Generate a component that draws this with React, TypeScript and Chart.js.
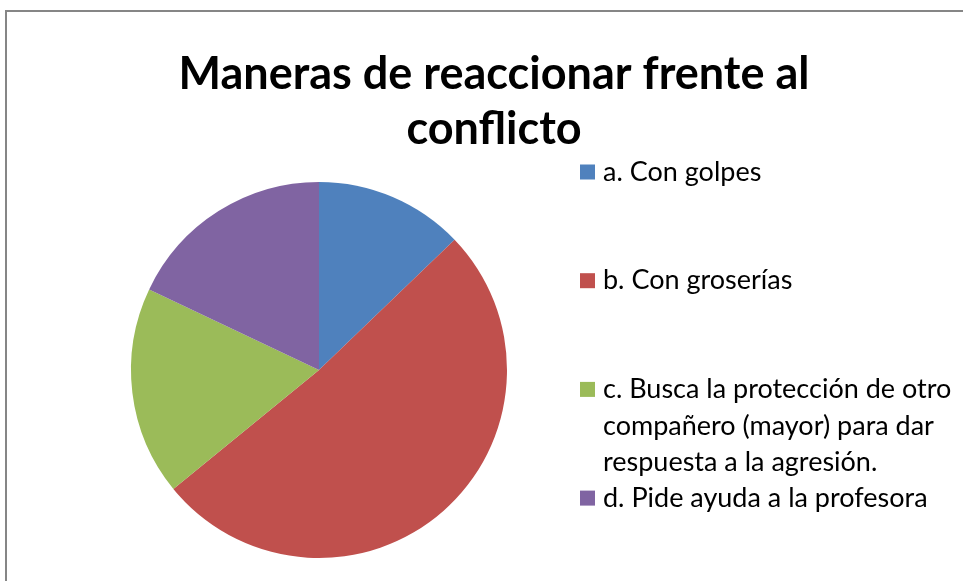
import React, { useEffect, useRef } from "react";
import { Chart, registerables } from "chart.js";

Chart.register(...registerables);

const titleLines = ["Maneras de reaccionar frente al", "conflicto"];
const categories = [
  "a. Con golpes",
  "b. Con groserías",
  "c. Busca la protección de otro compañero (mayor) para dar respuesta a la agresión.",
  "d. Pide ayuda a la profesora",
];
const legendLines = [
  ["a. Con golpes"],
  ["b. Con groserías"],
  ["c. Busca la protección de otro", "compañero (mayor) para dar", "respuesta a la agresión."],
  ["d. Pide ayuda a la profesora"],
];
const values = [5, 20, 7, 7];
const colors = ["#4F81BD", "#C0504D", "#9BBB59", "#8064A2"];

const FONT = "Lato, 'Open Sans', 'Noto Sans', sans-serif";

const decorPlugin = {
  id: "decor",
  beforeDraw(chart: any) {
    const ctx = chart.ctx;
    ctx.save();
    ctx.fillStyle = "#ffffff";
    ctx.fillRect(0, 0, chart.width, chart.height);
    ctx.strokeStyle = "#868686";
    ctx.lineWidth = 2;
    ctx.strokeRect(6, 11, chart.width + 20, chart.height + 20);
    ctx.restore();
  },
  afterDraw(chart: any) {
    const ctx = chart.ctx;
    ctx.save();
    // title
    ctx.fillStyle = "#000000";
    ctx.font = `bold 45px ${FONT}`;
    ctx.textAlign = "center";
    ctx.textBaseline = "middle";
    titleLines.forEach((t, i) => ctx.fillText(t, 494, 74 + i * 55));
    // legend
    const ds = chart.data.datasets[0];
    ctx.font = `27px ${FONT}`;
    ctx.textAlign = "left";
    legendLines.forEach((lines, i) => {
      const y0 = 172 + i * 108.7;
      ctx.fillStyle = ds.backgroundColor[i];
      ctx.fillRect(580, y0 - 7.5, 15, 15);
      ctx.fillStyle = "#000000";
      lines.forEach((ln, j) => ctx.fillText(ln, 603, y0 + j * 36.5));
    });
    ctx.restore();
  },
};

export default function App() {
  const ref = useRef<HTMLCanvasElement>(null);
  useEffect(() => {
    const chart = new Chart(ref.current!, {
      type: "pie",
      data: {
        labels: categories,
        datasets: [
          {
            data: values,
            backgroundColor: colors,
            borderWidth: 0,
          },
        ],
      },
      options: {
        animation: false,
        responsive: false,
        devicePixelRatio: 1,
        layout: { padding: { left: 131, right: 456, top: 182, bottom: 23 } },
        plugins: {
          legend: { display: false },
          title: { display: false },
          tooltip: { enabled: false },
        },
      },
      plugins: [decorPlugin],
    });
    return () => chart.destroy();
  }, []);
  return (
    <div style={{ position: "fixed", left: 0, top: 0, width: 963, height: 581, background: "#fff" }}>
      <canvas ref={ref} width={963} height={581} />
    </div>
  );
}
